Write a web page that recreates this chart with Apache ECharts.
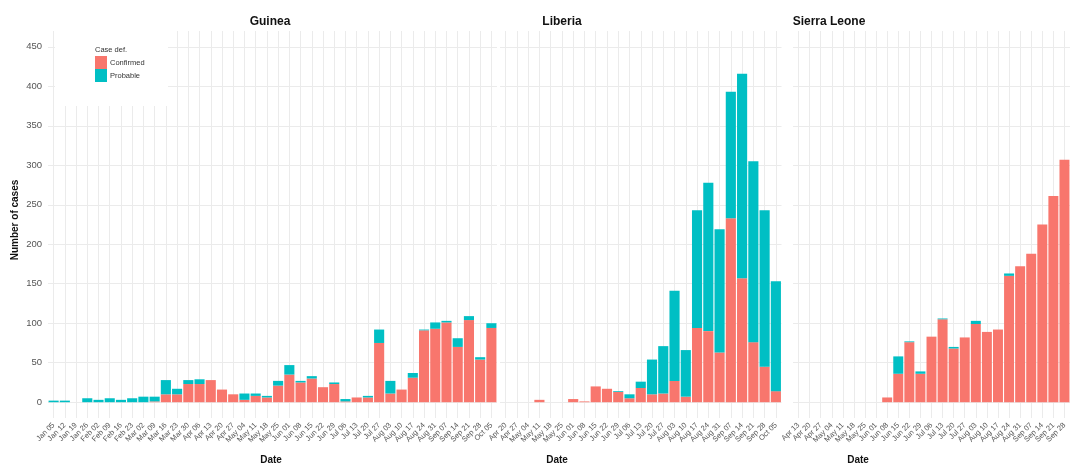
<!DOCTYPE html>
<html><head><meta charset="utf-8">
<script src="https://cdn.jsdelivr.net/npm/echarts@6/dist/echarts.min.js"></script>
<style>html,body{margin:0;padding:0;background:#fff}#c{width:1070px;height:466px}</style>
</head><body><div id="c"></div>
<script>
// ---------- data ----------
const guineaWeeks = ['Jan 05','Jan 12','Jan 19','Jan 26','Feb 02','Feb 09','Feb 16','Feb 23','Mar 02','Mar 09','Mar 16','Mar 23','Mar 30','Apr 06','Apr 13','Apr 20','Apr 27','May 04','May 11','May 18','May 25','Jun 01','Jun 08','Jun 15','Jun 22','Jun 29','Jul 06','Jul 13','Jul 20','Jul 27','Aug 03','Aug 10','Aug 17','Aug 24','Aug 31','Sep 07','Sep 14','Sep 21','Sep 28','Oct 05'];
const guineaConfirmed = [0,0,0,0,0,0,0,0,0,1,10,10,23,23,28,16,10,3,8,6,21,35,25,30,19,23,1,6,6,75,11,16,31,91,93,101,70,104,54,94];
const guineaProbable  = [2,2,0,5,3,5,3,5,7,6,18,7,5,6,0,0,0,8,3,2,6,12,2,3,0,2,3,0,2,17,16,0,6,1,8,2,11,5,3,6];

const liberiaWeeks = ['Apr 20','Apr 27','May 04','May 11','May 18','May 25','Jun 01','Jun 08','Jun 15','Jun 22','Jun 29','Jul 06','Jul 13','Jul 20','Jul 27','Aug 03','Aug 10','Aug 17','Aug 24','Aug 31','Sep 07','Sep 14','Sep 21','Sep 28','Oct 05'];
const liberiaConfirmed = [0,0,0,3,0,0,4,1,20,17,13,5,18,10,11,27,7,94,90,63,233,157,76,45,14];
const liberiaProbable  = [0,0,0,0,0,0,0,0,0,0,1,5,8,44,60,114,59,149,188,156,160,259,229,198,139];

const sierraWeeks = ['Apr 13','Apr 20','Apr 27','May 04','May 11','May 18','May 25','Jun 01','Jun 08','Jun 15','Jun 22','Jun 29','Jul 06','Jul 13','Jul 20','Jul 27','Aug 03','Aug 10','Aug 17','Aug 24','Aug 31','Sep 07','Sep 14','Sep 21','Sep 28'];
const sierraConfirmed = [0,0,0,0,0,0,0,0,6,36,76,36,83,105,68,82,99,89,92,160,172,188,225,261,307];
const sierraProbable  = [0,0,0,0,0,0,0,0,0,22,1,3,0,1,2,0,4,0,0,3,0,0,0,0,0];

const countryNames = ['Guinea','Liberia','Sierra Leone'];
const seriesNames = ['Confirmed','Probable'];
const yTickValues = [0,50,100,150,200,250,300,350,400,450];

// ---------- chart ----------
const FONT = 'Liberation Sans, Arial, sans-serif';
const RED = '#F8766D', TEAL = '#00BFC4';
const GRID_TOP = 31, GRID_BOTTOM = 48;
const grids = [
  {left: 48, width: 449, top: GRID_TOP, bottom: GRID_BOTTOM},
  {left: 500, width: 281.5, top: GRID_TOP, bottom: GRID_BOTTOM},
  {left: 793, width: 282, top: GRID_TOP, bottom: GRID_BOTTOM}
];
const weeks = [guineaWeeks, liberiaWeeks, sierraWeeks];
const conf = [guineaConfirmed, liberiaConfirmed, sierraConfirmed];
const prob = [guineaProbable, liberiaProbable, sierraProbable];

const xAxes = weeks.map((w, i) => ({
  type: 'category', gridIndex: i, data: w,
  axisLine: {show: false}, axisTick: {show: false},
  axisLabel: {interval: 0, rotate: 45, fontSize: 7.5, color: '#555', margin: 6, fontFamily: FONT},
  splitLine: {show: true, alignWithLabel: true, lineStyle: {color: '#ebebeb', width: 1}}
}));
const yAxes = weeks.map((w, i) => ({
  type: 'value', gridIndex: i, min: -20, max: 470, interval: 10,
  axisLine: {show: false}, axisTick: {show: false},
  axisLabel: {show: i === 0, fontSize: 9.5, color: '#555', margin: 6, fontFamily: FONT,
    formatter: v => (yTickValues.indexOf(v) >= 0 ? String(v) : '')},
  splitLine: {show: true, lineStyle: {color: ['rgba(0,0,0,0)','rgba(0,0,0,0)','#ebebeb','rgba(0,0,0,0)','rgba(0,0,0,0)'], width: 1}}
}));
const series = [];
weeks.forEach((w, i) => {
  series.push({name: seriesNames[0], type: 'bar', xAxisIndex: i, yAxisIndex: i, stack: 's' + i,
    data: conf[i], barWidth: '90%', itemStyle: {color: RED}, silent: true});
  series.push({name: seriesNames[1], type: 'bar', xAxisIndex: i, yAxisIndex: i, stack: 's' + i,
    data: prob[i], barWidth: '90%', itemStyle: {color: TEAL}, silent: true});
});

const titleX = [270, 562, 829];
const dateX = [271, 557, 858];
const graphics = [
  {type: 'rect', shape: {x: 55, y: 30, width: 113, height: 76}, style: {fill: '#fff'}, z: 3},
  {type: 'text', x: 95, y: 50, z: 5, style: {text: 'Case def.', font: '7.5px ' + FONT, fill: '#333', textAlign: 'left', textVerticalAlign: 'middle'}},
  {type: 'text', x: 15, y: 220, rotation: Math.PI / 2, z: 5, style: {text: 'Number of cases', font: 'bold 10px ' + FONT, fill: '#111', textAlign: 'center', textVerticalAlign: 'middle'}}
];
countryNames.forEach((n, i) => {
  graphics.push({type: 'text', x: titleX[i], y: 22, z: 5, style: {text: n, font: 'bold 12px ' + FONT, fill: '#111', textAlign: 'center', textVerticalAlign: 'middle'}});
  graphics.push({type: 'text', x: dateX[i], y: 460, z: 5, style: {text: 'Date', font: 'bold 10px ' + FONT, fill: '#111', textAlign: 'center', textVerticalAlign: 'middle'}});
});

const chart = echarts.init(document.getElementById('c'), null, {renderer: 'canvas'});
chart.setOption({
  animation: false,
  backgroundColor: '#fff',
  grid: grids,
  xAxis: xAxes,
  yAxis: yAxes,
  series: series,
  legend: {
    data: seriesNames, orient: 'vertical', left: 95, top: 56, itemGap: 0,
    itemWidth: 12, itemHeight: 13, icon: 'rect', selectedMode: false, z: 6,
    textStyle: {fontSize: 7.5, color: '#333', fontFamily: FONT, padding: [0, 0, 0, -2]},
    padding: 0
  },
  graphic: graphics
});
</script>
</body></html>
